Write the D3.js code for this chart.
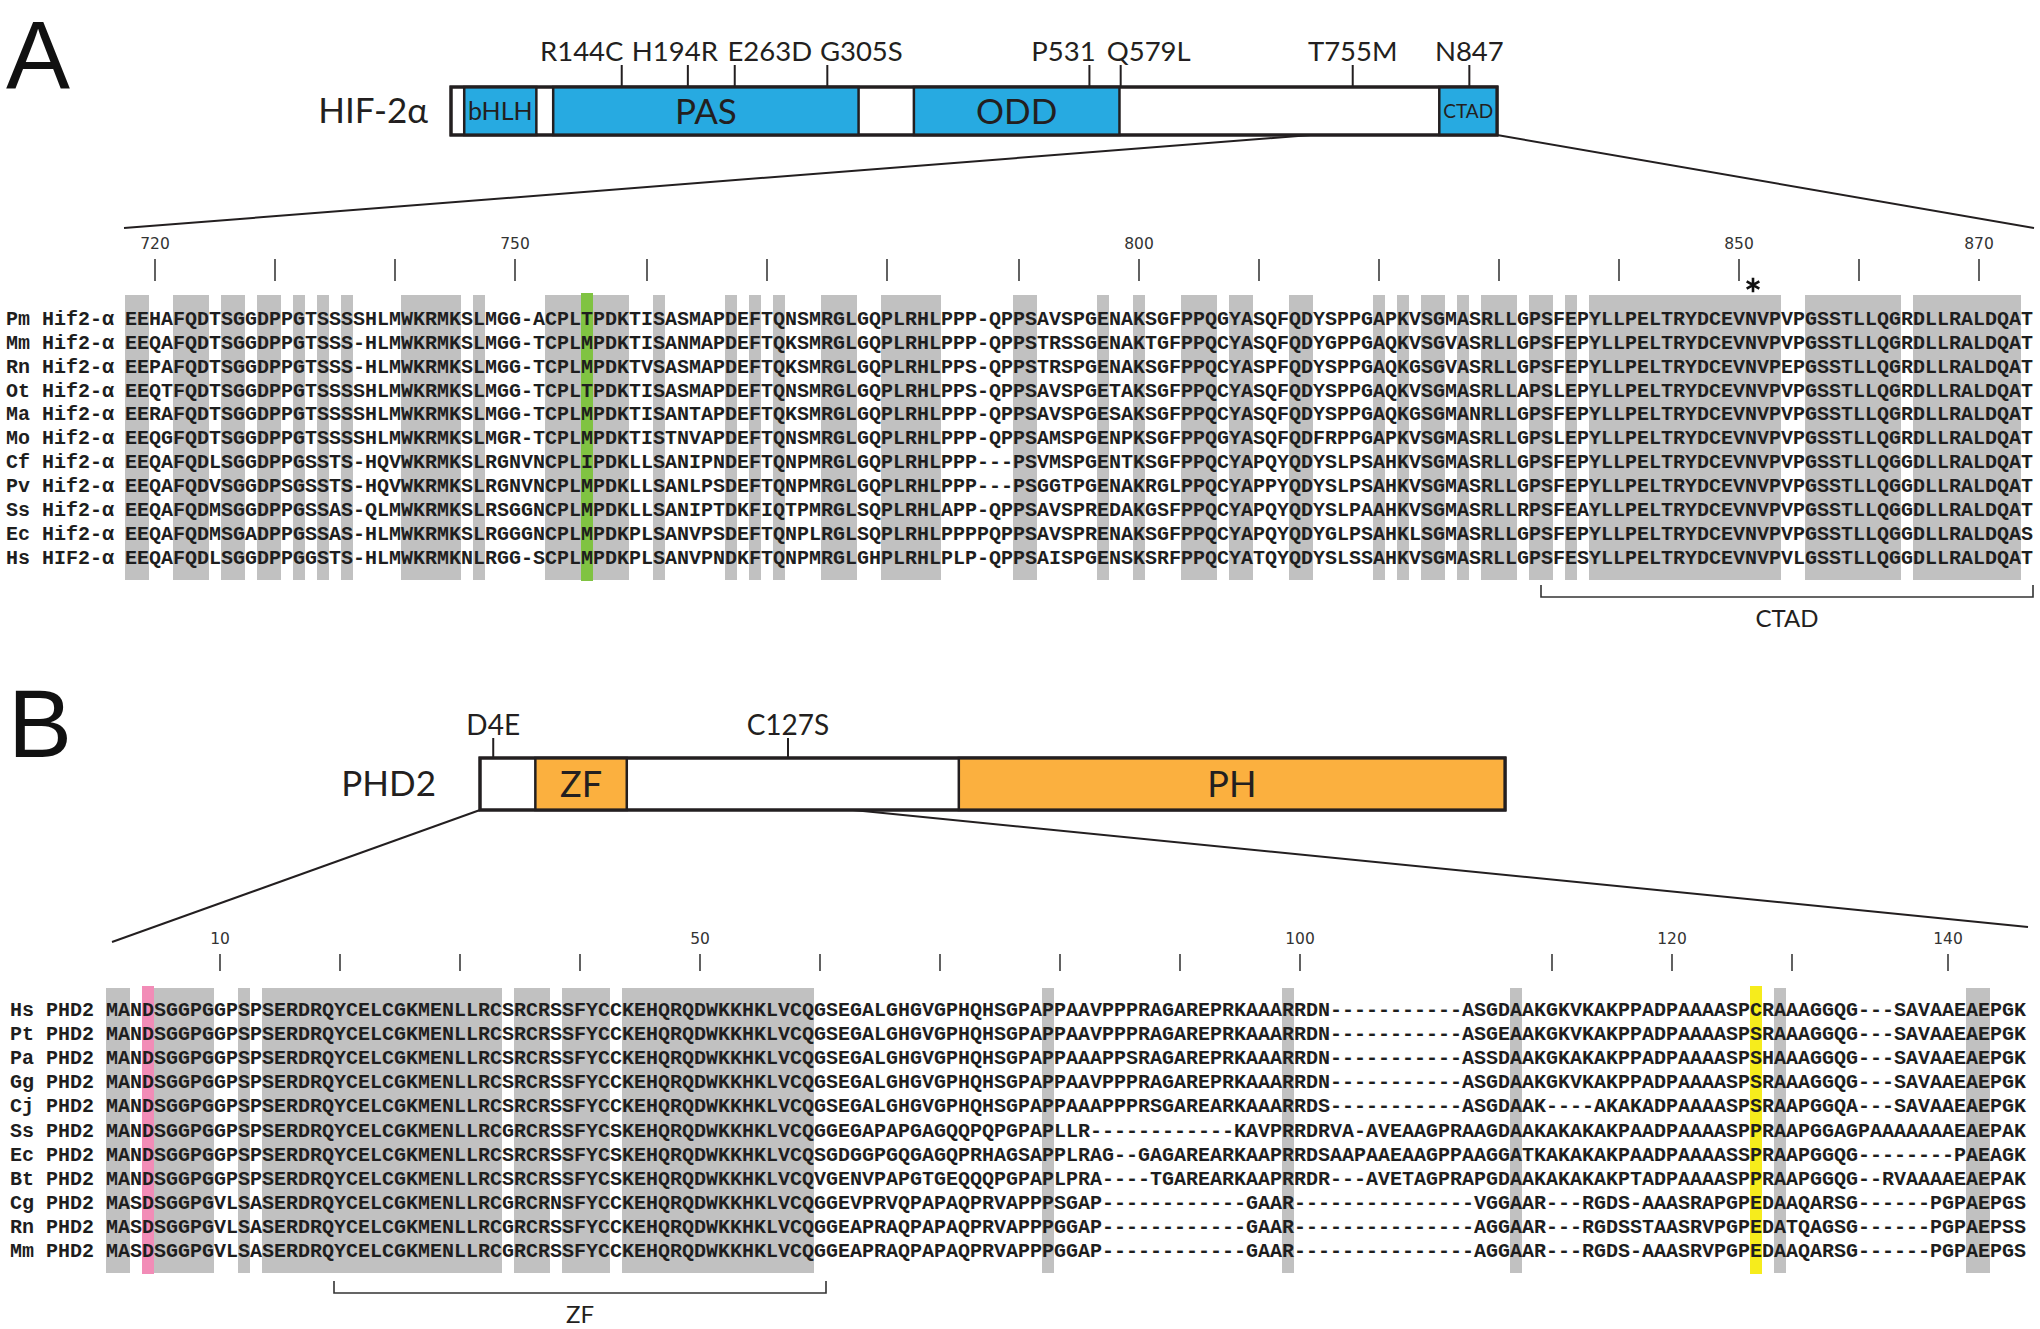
<!DOCTYPE html>
<html><head><meta charset="utf-8">
<script src="https://cdn.jsdelivr.net/npm/d3@7/dist/d3.min.js"></script>
<style>
html,body{margin:0;padding:0;background:#fff;}
svg{display:block;}
</style></head><body>
<svg id="chart" width="2040" height="1329"></svg>
<script>
// ================= DATA =================
// Panel A – HIF-2α
const hifNames = ["Pm Hif2-α","Mm Hif2-α","Rn Hif2-α","Ot Hif2-α","Ma Hif2-α","Mo Hif2-α","Cf Hif2-α","Pv Hif2-α","Ss Hif2-α","Ec Hif2-α","Hs HIF2-α"];
const hifSeqs = [
"EEHAFQDTSGGDPPGTSSSSHLMWKRMKSLMGG-ACPLTPDKTISASMAPDEFTQNSMRGLGQPLRHLPPP-QPPSAVSPGENAKSGFPPQGYASQFQDYSPPGAPKVSGMASRLLGPSFEPYLLPELTRYDCEVNVPVPGSSTLLQGRDLLRALDQAT",
"EEQAFQDTSGGDPPGTSSS-HLMWKRMKSLMGG-TCPLMPDKTISANMAPDEFTQKSMRGLGQPLRHLPPP-QPPSTRSSGENAKTGFPPQCYASQFQDYGPPGAQKVSGVASRLLGPSFEPYLLPELTRYDCEVNVPVPGSSTLLQGRDLLRALDQAT",
"EEPAFQDTSGGDPPGTSSS-HLMWKRMKSLMGG-TCPLMPDKTVSASMAPDEFTQKSMRGLGQPLRHLPPS-QPPSTRSPGENAKSGFPPQCYASPFQDYSPPGAQKGSGVASRLLGPSFEPYLLPELTRYDCEVNVPEPGSSTLLQGRDLLRALDQAT",
"EEQTFQDTSGGDPPGTSSSSHLMWKRMKSLMGG-TCPLTPDKTISASMAPDEFTQNSMRGLGQPLRHLPPS-QPPSAVSPGETAKSGFPPQCYASQFQDYSPPGAQKVSGMASRLLAPSLEPYLLPELTRYDCEVNVPVPGSSTLLQGRDLLRALDQAT",
"EERAFQDTSGGDPPGTSSSSHLMWKRMKSLMGG-TCPLMPDKTISANTAPDEFTQKSMRGLGQPLRHLPPP-QPPSAVSPGESAKSGFPPQCYASQFQDYSPPGAQKGSGMANRLLGPSFEPYLLPELTRYDCEVNVPVPGSSTLLQGRDLLRALDQAT",
"EEQGFQDTSGGDPPGTSSSSHLMWKRMKSLMGR-TCPLMPDKTISTNVAPDEFTQNSMRGLGQPLRHLPPP-QPPSAMSPGENPKSGFPPQGYASQFQDFRPPGAPKVSGMASRLLGPSLEPYLLPELTRYDCEVNVPVPGSSTLLQGRDLLRALDQAT",
"EEQAFQDLSGGDPPGSSTS-HQVWKRMKSLRGNVNCPLIPDKLLSANIPNDEFTQNPMRGLGQPLRHLPPP---PSVMSPGENTKSGFPPQCYAPQYQDYSLPSAHKVSGMASRLLGPSFEPYLLPELTRYDCEVNVPVPGSSTLLQGGDLLRALDQAT",
"EEQAFQDVSGGDPSGSSTS-HQVWKRMKSLRGNVNCPLMPDKLLSANLPSDEFTQNPMRGLGQPLRHLPPP---PSGGTPGENAKRGLPPQCYAPPYQDYSLPSAHKVSGMASRLLGPSFEPYLLPELTRYDCEVNVPVPGSSTLLQGGDLLRALDQAT",
"EEQAFQDMSGGDPPGSSAS-QLMWKRMKSLRSGGNCPLMPDKLLSANIPTDKFIQTPMRGLSQPLRHLAPP-QPPSAVSPREDAKGSFPPQCYAPQYQDYSLPAAHKVSGMASRLLRPSFEAYLLPELTRYDCEVNVPVPGSSTLLQGGDLLRALDQAT",
"EEQAFQDMSGADPPGSSAS-HLMWKRMKSLRGGGNCPLMPDKPLSANVPSDEFTQNPLRGLSQPLRHLPPPPQPPSAVSPRENAKSGFPPQCYAPQYQDYGLPSAHKLSGMASRLLGPSFEPYLLPELTRYDCEVNVPVPGSSTLLQGGDLLRALDQAS",
"EEQAFQDLSGGDPPGGSTS-HLMWKRMKNLRGG-SCPLMPDKPLSANVPNDKFTQNPMRGLGHPLRHLPLP-QPPSAISPGENSKSRFPPQCYATQYQDYSLSSAHKVSGMASRLLGPSFESYLLPELTRYDCEVNVPVLGSSTLLQGGDLLRALDQAT"
];
const hifRulerStart = 718;                       // number of first residue of row 0
const hifTickValues = [720,730,740,750,760,770,780,790,800,810,820,830,840,850,860,870];
const hifTickLabels = [720,750,800,850,870];
const hifHighlightCols = [38];                   // green column (T/M)
const hifStarCols = [135];                       // asterisk (N847)
const hifBracketCols = [118, 158];
const hifBracketLabel = "CTAD";
const hifLength = 870;
const hifDomainNames = ["bHLH","PAS","ODD","CTAD"];
const hifDomainStart = [11, 85, 385, 822];
const hifDomainEnd   = [71, 339, 556, 870];
const hifMutNames = ["R144C","H194R","E263D","G305S","P531","Q579L","T755M","N847"];
const hifMutPos   = [142, 197, 236, 313, 531, 557, 750, 847];
const hifZoomRange = [715, 870];

// Panel B – PHD2
const phdNames = ["Hs PHD2","Pt PHD2","Pa PHD2","Gg PHD2","Cj PHD2","Ss PHD2","Ec PHD2","Bt PHD2","Cg PHD2","Rn PHD2","Mm PHD2"];
const phdSeqs = [
"MANDSGGPGGPSPSERDRQYCELCGKMENLLRCSRCRSSFYCCKEHQRQDWKKHKLVCQGSEGALGHGVGPHQHSGPAPPAAVPPPRAGAREPRKAAARRDN-----------ASGDAAKGKVKAKPPADPAAAASPCRAAAGGQG---SAVAAEAEPGK",
"MANDSGGPGGPSPSERDRQYCELCGKMENLLRCSRCRSSFYCCKEHQRQDWKKHKLVCQGSEGALGHGVGPHQHSGPAPPAAVPPPRAGAREPRKAAARRDN-----------ASGEAAKGKVKAKPPADPAAAASPSRAAAGGQG---SAVAAEAEPGK",
"MANDSGGPGGPSPSERDRQYCELCGKMENLLRCSRCRSSFYCCKEHQRQDWKKHKLVCQGSEGALGHGVGPHQHSGPAPPAAAPPSRAGAREPRKAAARRDN-----------ASSDAAKGKAKAKPPADPAAAASPSHAAAGGQG---SAVAAEAEPGK",
"MANDSGGPGGPSPSERDRQYCELCGKMENLLRCSRCRSSFYCCKEHQRQDWKKHKLVCQGSEGALGHGVGPHQHSGPAPPAAVPPPRAGAREPRKAAARRDN-----------ASGDAAKGKVKAKPPADPAAAASPSRAAAGGQG---SAVAAEAEPGK",
"MANDSGGPGGPSPSERDRQYCELCGKMENLLRCSRCRSSFYCCKEHQRQDWKKHKLVCQGSEGALGHGVGPHQHSGPAPPAAAPPPRSGAREARKAAARRDS-----------ASGDAAK----AKAKADPAAAASPSRAAPGGQA---SAVAAEAEPGK",
"MANDSGGPGGPSPSERDRQYCELCGKMENLLRCGRCRSSFYCSKEHQRQDWKKHKLVCQGGEGAPAPGAGQQPQPGPAPLLR------------KAVPRRDRVA-AVEAAGPRAAGDAAKAKAKAKPAADPAAAASPPRAAPGGAGPAAAAAAAEAEPAK",
"MANDSGGPGGPSPSERDRQYCELCGKMENLLRCSRCRSSFYCSKEHQRQDWKKHKLVCQSGDGGPGQGAGQPRHAGSAPPLRAG--GAGAREARKAAPRRDSAAPAAEAAGPPAAGGATKAKAKAKPAADPAAAASSPRAAPGGQG--------PAEAGK",
"MANDSGGPGGPSPSERDRQYCELCGKMENLLRCSRCRSSFYCSKEHQRQDWKKHKLVCQVGENVPAPGTGEQQQPGPAPLPRA----TGAREARKAAPRRDR---AVETAGPRAPGDAAKAKAKAKPTADPAAAASPPRAAPGGQG--RVAAAAEAEPAK",
"MASDSGGPGVLSASERDRQYCELCGKMENLLRCGRCRNSFYCCKEHQRQDWKKHKLVCQGGEVPRVQPAPAQPRVAPPPSGAP------------GAAR---------------VGGAAR---RGDS-AAASRAPGPEDAAQARSG------PGPAEPGS",
"MASDSGGPGVLSASERDRQYCELCGKMENLLRCGRCRSSFYCCKEHQRQDWKKHKLVCQGGEAPRAQPAPAQPRVAPPPGGAP------------GAAR---------------AGGAAR---RGDSSTAASRVPGPEDATQAGSG------PGPAEPSS",
"MASDSGGPGVLSASERDRQYCELCGKMENLLRCGRCRSSFYCCKEHQRQDWKKHKLVCQGGEAPRAQPAPAQPRVAPPPGGAP------------GAAR---------------AGGAAR---RGDS-AAASRVPGPEDAAQARSG------PGPAEPGS"
];
const phdRulerStart = 1;
const phdTickValues = [10,20,30,40,50,60,70,80,90,100,110,120,130,140];
const phdTickLabels = [10,50,100,120,140];
const phdHighlightCols = [3, 137];               // pink (D4), yellow (C127)
const phdBracketCols = [19, 59];
const phdBracketLabel = "ZF";
const phdLength = 426;
const phdDomainNames = ["ZF","PH"];
const phdDomainStart = [23, 199];
const phdDomainEnd   = [61, 426];
const phdMutNames = ["D4E","C127S"];
const phdMutPos   = [5.5, 128];
const phdZoomRange = [0, 155];

// ================= STYLE / LAYOUT =================
const COLW = 12;
const MONO = '"Liberation Mono","DejaVu Sans Mono","Courier New",monospace';
const SANS = 'Lato,"Open Sans","DejaVu Sans",sans-serif';
const PANELFONT = '"Liberation Sans",Arial,sans-serif';
const INK = "#231f20";
const SHADE = "#c1c1c1";
const BLUE = "#27aae1", ORANGE = "#fbb03f";
const GREEN = "#80c342", PINK = "#f28cb7", YELLOW = "#f6ec1c";

const svg = d3.select("#chart");
svg.append("rect").attr("width",2040).attr("height",1329).attr("fill","#fff");

function conservedCols(seqs){
  const out=[];
  for(let c=0;c<seqs[0].length;c++){
    const ch=seqs[0][c];
    if(ch==='-') continue;
    if(seqs.every(s=>s[c]===ch)) out.push(c);
  }
  return out;
}
function numberColumns(seq,start){
  const m=new Map(); let n=start;
  for(let c=0;c<seq.length;c++){ if(seq[c]!=='-'){ m.set(n,c); n++; } }
  return m;
}

function drawAlignment(cfg){
  const g=svg.append("g");
  const ncol=cfg.seqs[0].length;
  const x=d3.scaleBand().domain(d3.range(ncol)).range([cfg.x0,cfg.x0+ncol*COLW]).padding(0);
  const y=d3.scalePoint().domain(d3.range(cfg.seqs.length)).range([cfg.yFirst,cfg.yLast]);
  const cx=c=>x(c)+x.bandwidth()/2;

  g.append("g").selectAll("rect").data(conservedCols(cfg.seqs)).join("rect")
    .attr("x",c=>x(c)).attr("y",cfg.shadeTop).attr("width",x.bandwidth())
    .attr("height",cfg.shadeBottom-cfg.shadeTop).attr("fill",SHADE);
  g.append("g").selectAll("rect").data(cfg.highlights).join("rect")
    .attr("x",(c)=>x(c)).attr("y",cfg.shadeTop-2).attr("width",x.bandwidth())
    .attr("height",cfg.shadeBottom-cfg.shadeTop+3).attr("fill",(c,i)=>cfg.highlightColors[i]);

  // ruler
  const num=numberColumns(cfg.seqs[0],cfg.rulerStart);
  const r=g.append("g");
  r.selectAll("line").data(cfg.tickValues).join("line")
    .attr("x1",v=>cx(num.get(v))).attr("x2",v=>cx(num.get(v)))
    .attr("y1",cfg.tickTop).attr("y2",cfg.tickBottom)
    .attr("stroke","#3a3a3a").attr("stroke-width",1.6);
  r.selectAll("text").data(cfg.tickLabels).join("text")
    .attr("x",v=>cx(num.get(v))).attr("y",cfg.tickLabelY)
    .attr("text-anchor","middle").attr("font-family",'"DejaVu Sans",Verdana,sans-serif')
    .attr("font-size",15.5).attr("fill","#333").text(v=>v);

  // rows
  const rows=g.append("g").selectAll("g").data(cfg.seqs).join("g")
    .attr("transform",(d,i)=>`translate(0,${y(i)})`);
  rows.append("text").attr("class","nm").attr("x",cfg.nameX).attr("y",0)
    .attr("font-family",MONO).attr("font-size",20).attr("font-weight","bold")
    .attr("fill","#1e1e1e").text((d,i)=>cfg.names[i]);
  rows.selectAll("text.res").data(d=>d.split("")).join("text").attr("class","res")
    .attr("x",(ch,c)=>cx(c)).attr("y",0).attr("text-anchor","middle")
    .attr("font-family",MONO).attr("font-size",20).attr("font-weight","bold")
    .attr("fill","#1e1e1e").text(ch=>ch);

  // bracket
  const bx0=x(cfg.bracket[0]), bx1=x(cfg.bracket[1])+x.bandwidth();
  g.append("path").attr("d",`M${bx0},${cfg.bracketY-12}V${cfg.bracketY}H${bx1}V${cfg.bracketY-12}`)
    .attr("fill","none").attr("stroke","#333").attr("stroke-width",1.6);
  g.append("text").attr("x",(bx0+bx1)/2).attr("y",cfg.bracketLabelY).attr("text-anchor","middle")
    .attr("font-family",SANS).attr("font-size",24).attr("fill",INK).text(cfg.bracketLabel);
  return {x,cx};
}

function drawProtein(cfg){
  const g=svg.append("g");
  const s=d3.scaleLinear().domain([0,cfg.length]).range([cfg.x0,cfg.x1]);
  const top=cfg.top, h=cfg.height;
  // zoom lines
  g.append("line").attr("x1",s(cfg.zoom[0])).attr("y1",top+h).attr("x2",cfg.zoomLeftEnd[0]).attr("y2",cfg.zoomLeftEnd[1])
    .attr("stroke",INK).attr("stroke-width",2);
  g.append("line").attr("x1",s(cfg.zoom[1])).attr("y1",top+h).attr("x2",cfg.zoomRightEnd[0]).attr("y2",cfg.zoomRightEnd[1])
    .attr("stroke",INK).attr("stroke-width",2);
  g.append("rect").attr("x",s(0)).attr("y",top).attr("width",s(cfg.length)-s(0)).attr("height",h)
    .attr("fill","#fff").attr("stroke",INK).attr("stroke-width",3);
  const doms=cfg.domainNames.map((n,i)=>({n,a:cfg.domainStart[i],b:cfg.domainEnd[i]}));
  g.selectAll("rect.dom").data(doms).join("rect").attr("class","dom")
    .attr("x",d=>s(d.a)).attr("y",top).attr("width",d=>s(d.b)-s(d.a)).attr("height",h)
    .attr("fill",cfg.color).attr("stroke",INK).attr("stroke-width",2.5);
  g.append("rect").attr("x",s(0)).attr("y",top).attr("width",s(cfg.length)-s(0)).attr("height",h)
    .attr("fill","none").attr("stroke",INK).attr("stroke-width",3);
  g.selectAll("text.dl").data(doms).join("text").attr("class","dl")
    .attr("x",d=>(s(d.a)+s(d.b))/2).attr("y",(d,i)=>top+h/2+cfg.domainFont[i]*0.36)
    .attr("text-anchor","middle").attr("font-family",SANS)
    .attr("font-size",(d,i)=>cfg.domainFont[i]).attr("fill",INK).text(d=>d.n);
  // mutations
  g.selectAll("line.mut").data(cfg.mutPos).join("line").attr("class","mut")
    .attr("x1",p=>s(p)).attr("x2",p=>s(p)).attr("y1",cfg.mutLineTop).attr("y2",top)
    .attr("stroke",INK).attr("stroke-width",2);
  g.selectAll("text.mut").data(cfg.mutNames).join("text").attr("class","mut")
    .attr("x",(n,i)=>s(cfg.mutPos[i])+cfg.mutLabelDx[i]).attr("y",cfg.mutLabelY)
    .attr("text-anchor","middle").attr("font-family",SANS).attr("font-size",cfg.mutFont)
    .attr("fill",INK).text(n=>n);
  g.append("text").attr("x",cfg.nameRight).attr("y",top+h/2+12).attr("text-anchor","end")
    .attr("font-family",SANS).attr("font-size",35).attr("fill",INK).text(cfg.name);
  g.append("text").attr("x",cfg.panelX).attr("y",cfg.panelY).attr("font-family",PANELFONT)
    .attr("font-size",96).attr("fill","#111").text(cfg.panel);
}

// ---------- Panel A ----------
drawProtein({name:"HIF-2α",panel:"A",panelX:6,panelY:88,length:hifLength,x0:451,x1:1497,top:87,height:48,
  color:BLUE,domainNames:hifDomainNames,domainStart:hifDomainStart,domainEnd:hifDomainEnd,domainFont:[25,35,35,19],
  mutNames:hifMutNames,mutPos:hifMutPos,mutLabelDx:[-40,-13,35,34,-26,28,0,0],mutLineTop:65,mutLabelY:61,mutFont:27.5,
  nameRight:428,zoom:hifZoomRange,zoomLeftEnd:[124,228],zoomRightEnd:[2034,228]});
const A=drawAlignment({names:hifNames,seqs:hifSeqs,x0:125,nameX:6,yFirst:325,yLast:563.5,shadeTop:295,shadeBottom:580,
  highlights:hifHighlightCols,highlightColors:[GREEN],rulerStart:hifRulerStart,tickValues:hifTickValues,tickLabels:hifTickLabels,
  tickTop:259,tickBottom:281,tickLabelY:249,bracket:hifBracketCols,bracketY:597,bracketLabelY:627,bracketLabel:hifBracketLabel});
svg.append("g").selectAll("path").data(hifStarCols).join("path")
  .attr("transform",c=>`translate(${A.cx(c)+2},285)`)
  .attr("d",d3.symbol(d3.symbolAsterisk,150)).attr("stroke","#111").attr("stroke-width",2.6).attr("fill","none");

// ---------- Panel B ----------
drawProtein({name:"PHD2",panel:"B",panelX:8,panelY:757,length:phdLength,x0:480,x1:1505,top:758,height:52,
  color:ORANGE,domainNames:phdDomainNames,domainStart:phdDomainStart,domainEnd:phdDomainEnd,domainFont:[36,36],
  mutNames:phdMutNames,mutPos:phdMutPos,mutLabelDx:[0,0],mutLineTop:738,mutLabelY:735,mutFont:28,
  nameRight:436,zoom:phdZoomRange,zoomLeftEnd:[112,942],zoomRightEnd:[2028,927]});
drawAlignment({names:phdNames,seqs:phdSeqs,x0:106,nameX:10,yFirst:1016,yLast:1257,shadeTop:988,shadeBottom:1273,
  highlights:phdHighlightCols,highlightColors:[PINK,YELLOW],rulerStart:phdRulerStart,tickValues:phdTickValues,tickLabels:phdTickLabels,
  tickTop:954,tickBottom:971,tickLabelY:944,bracket:phdBracketCols,bracketY:1293,bracketLabelY:1323,bracketLabel:phdBracketLabel});
</script>
</body></html>
